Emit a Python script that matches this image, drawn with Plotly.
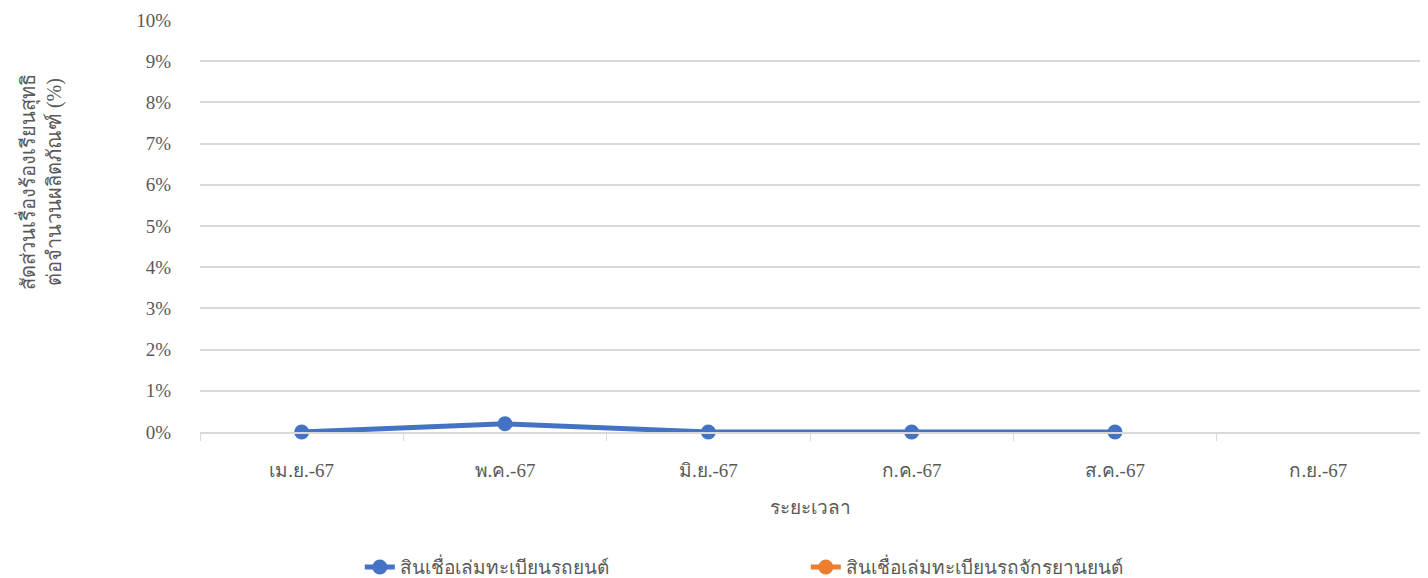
import plotly.graph_objects as go

months = ["เม.ย.-67", "พ.ค.-67", "มิ.ย.-67", "ก.ค.-67", "ส.ค.-67", "ก.ย.-67"]
car_loan = [0.0, 0.2, 0.0, 0.0, 0.0, None]
moto_loan = [None, None, None, None, None, None]
y_ticks = list(range(0, 11))
y_labels = [f"{v}%" for v in y_ticks]

FONT = "Liberation Serif, Times New Roman, serif"
GREY = "#595959"

fig = go.Figure()
fig.add_trace(go.Scatter(x=months, y=car_loan, mode="lines+markers",
                         name="สินเชื่อเล่มทะเบียนรถยนต์", cliponaxis=False,
                         line=dict(color="#4472C4", width=5),
                         marker=dict(color="#4472C4", size=15)))
fig.add_trace(go.Scatter(x=months, y=moto_loan, mode="lines+markers",
                         name="สินเชื่อเล่มทะเบียนรถจักรยานยนต์", cliponaxis=False,
                         line=dict(color="#ED7D31", width=5),
                         marker=dict(color="#ED7D31", size=15)))

fig.update_layout(
    width=1420, height=570,
    margin=dict(l=192, r=8, t=12, b=146, autoexpand=False),
    plot_bgcolor="white", paper_bgcolor="white",
    font=dict(family=FONT, color=GREY, size=19),
    showlegend=True,
    legend=dict(orientation="h", x=0.131, xanchor="left", y=-0.328, yanchor="middle",
                font=dict(size=19, color=GREY), entrywidth=401, entrywidthmode="pixels"),
    xaxis=dict(type="category", range=[-0.5, 5.5], automargin=False, showgrid=False, showline=True,
               linecolor="#d9d9d9", linewidth=1.5,
               tickson="boundaries", ticks="outside", ticklen=7, tickcolor="#d9d9d9",
               ticklabelstandoff=20, tickfont=dict(size=19, color=GREY),
               title=dict(text="ระยะเวลา", font=dict(size=19, color=GREY), standoff=21)),
    yaxis=dict(range=[0, 10], automargin=False, tickvals=y_ticks, ticktext=y_labels, showgrid=True,
               gridcolor="#d9d9d9", gridwidth=1.5, zeroline=False, showline=False,
               ticks="", ticklabelstandoff=28, tickfont=dict(size=19, color=GREY)),
)
fig.add_annotation(text="สัดส่วนเรื่องร้องเรียนสุทธิ<br>ต่อจำนวนผลิตภัณฑ์ (%)",
                   xref="paper", yref="paper", x=-0.131, y=0.607, xanchor="center", yanchor="middle",
                   textangle=-90, showarrow=False, font=dict(size=20, color=GREY))
fig.write_html("out.html")
